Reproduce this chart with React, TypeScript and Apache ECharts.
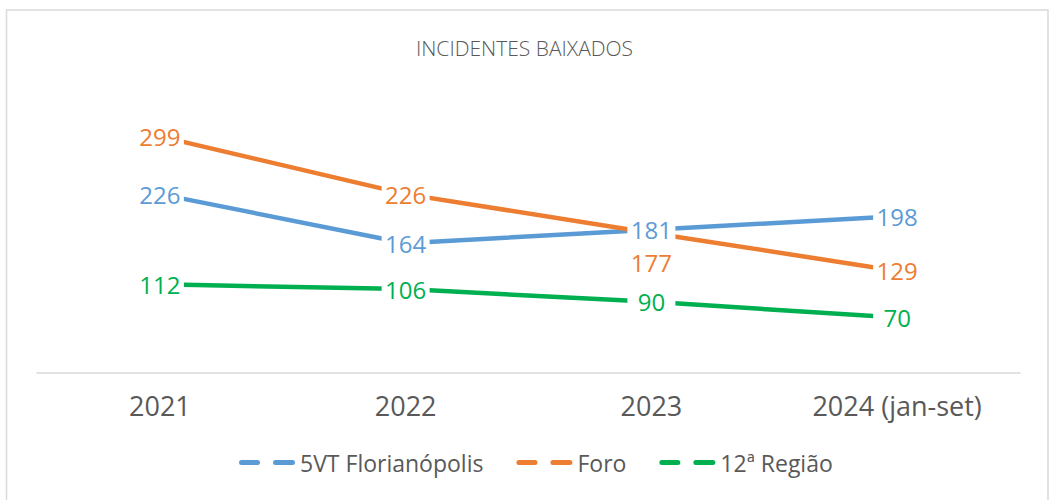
import React, { useEffect, useRef } from "react";
import * as echarts from "echarts";

const categories = ["2021", "2022", "2023", "2024 (jan-set)"];
const seriesNames = ["5VT Florianópolis", "Foro", "12ª Região"];
const vt5Values = [226, 164, 181, 198];
const foroValues = [299, 226, 177, 129];
const regiaoValues = [112, 106, 90, 70];
const colors = ["#5B9BD5", "#ED7D31", "#00B050"];
const title = "INCIDENTES BAIXADOS";

const FONT = "'Open Sans', 'Noto Sans', sans-serif";

export default function App() {
  const ref = useRef<HTMLDivElement>(null);
  useEffect(() => {
    if (!ref.current) return;
    const chart = echarts.init(ref.current, null, { renderer: "svg" });
    const allValues = [vt5Values, foroValues, regiaoValues];
    const mkData = (vals: number[], si: number) =>
      vals.map((v, i) => {
        if (si === 1 && i === 2) {
          return {
            value: v,
            label: { position: "bottom", distance: 16, backgroundColor: "transparent" },
          };
        }
        return { value: v };
      });
    const legendIcon =
      "path://M2.5,0H18.5A2.5,2.5 0 0 1 18.5,5H2.5A2.5,2.5 0 0 1 2.5,0Z M36.5,0H53.5A2.5,2.5 0 0 1 53.5,5H36.5A2.5,2.5 0 0 1 36.5,0Z";
    chart.setOption({
      animation: false,
      backgroundColor: "#ffffff",
      title: {
        text: title,
        left: "center",
        top: 32,
        textStyle: { fontFamily: FONT, fontSize: 21, fontWeight: 300, color: "#595959" },
      },
      graphic: [
        {
          type: "rect",
          shape: { x: 6.5, y: 10, width: 1041.5, height: 500 },
          style: { fill: "none", stroke: "#d9d9d9", lineWidth: 1.5 },
          silent: true,
          z: -10,
        },
      ],
      legend: {
        left: 234,
        top: 446,
        itemWidth: 56,
        itemHeight: 5,
        itemGap: 33,
        icon: legendIcon,
        itemStyle: { opacity: 1 },
        textStyle: { fontFamily: FONT, fontSize: 23, color: "#595959" },
        data: seriesNames.map((n) => ({ name: n })),
      },
      grid: { left: 37, right: 29, top: 96, bottom: 127 },
      xAxis: {
        type: "category",
        data: categories,
        boundaryGap: true,
        axisLine: { show: true, lineStyle: { color: "#d9d9d9", width: 1.5 } },
        axisTick: { show: false },
        axisLabel: { fontFamily: FONT, fontSize: 27, color: "#595959", margin: 19 },
      },
      yAxis: {
        type: "value",
        min: 0,
        max: 350,
        show: false,
        splitLine: { show: false },
      },
      series: allValues.map((vals, si) => ({
        name: seriesNames[si],
        type: "line",
        data: mkData(vals, si),
        color: colors[si],
        symbol: "circle",
        symbolSize: 1,
        showSymbol: true,
        itemStyle: { color: colors[si] },
        lineStyle: { color: colors[si], width: 4.5, cap: "round" },
        label: {
          show: true,
          position: "inside",
          fontFamily: FONT,
          fontSize: 24,
          color: colors[si],
          backgroundColor: "#ffffff",
          width: 42,
          align: "center",
          padding: [0, 3, 0, 3],
          lineHeight: 26,
        },
        z: 2,
      })),
    });
    return () => chart.dispose();
  }, []);
  return (
    <div
      ref={ref}
      style={{ position: "absolute", left: 0, top: 0, width: 1049, height: 500 }}
    />
  );
}
